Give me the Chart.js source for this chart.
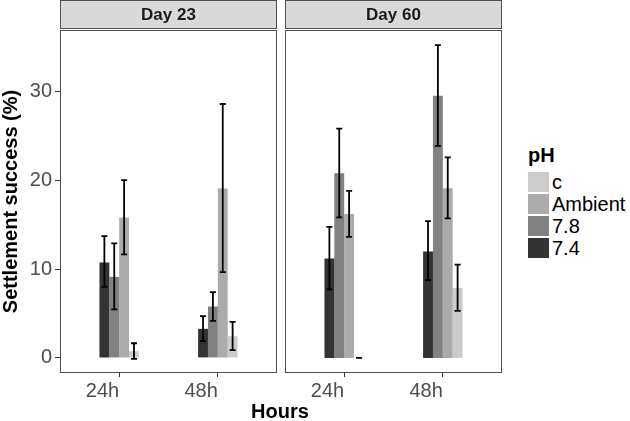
<!DOCTYPE html>
<html>
<head>
<meta charset="utf-8">
<script src="https://cdn.jsdelivr.net/npm/chart.js@4.4.1/dist/chart.umd.min.js"></script>
<style>
  html, body { margin: 0; padding: 0; background: #fff; }
  #wrap { position: relative; width: 630px; height: 421px; overflow: hidden; font-family: "Liberation Sans", Arial, Helvetica, sans-serif; }
  canvas { position: absolute; top: 0; }
  #c1 { left: 0; }
  #c2 { left: 280px; }
  #xtitle { position: absolute; left: 230px; width: 100px; top: 399px; text-align: center; font-weight: bold; font-size: 20px; line-height: 24px; color: #000; }
  #legend { position: absolute; left: 528px; top: 143px; color: #000; }
  #legend .ttl { font-weight: bold; font-size: 20px; line-height: 24px; height: 28px; }
  #legend .row { display: flex; align-items: center; height: 22px; margin-bottom: 0; }
  #legend .key { width: 21px; height: 20px; margin-right: 3px; }
  #legend .lab { font-size: 20px; line-height: 20px; color: #000; }
</style>
</head>
<body>
<div id="wrap">
  <canvas id="c1" width="280" height="421"></canvas>
  <canvas id="c2" width="225" height="421"></canvas>
  <div id="xtitle">Hours</div>
  <div id="legend"></div>
</div>
<script>
// ---- data ----
const hours = ["24h", "48h"];
const panels = ["Day 23", "Day 60"];
const phLevels = ["7.4", "7.8", "Ambient", "c"];
const phColors = ["#333333", "#818181", "#ABABAB", "#CCCCCC"];
const yTicks = [0, 10, 20, 30];

// Day 23 means / error limits per pH level (24h, 48h)
const day23_74 = [10.74, 3.27];
const day23_78 = [9.12, 5.79];
const day23_amb = [15.81, 19.07];
const day23_c = [0.75, 2.44];
const day23_74_lo = [8.0, 1.9],   day23_74_hi = [13.7, 4.7];
const day23_78_lo = [5.45, 4.17], day23_78_hi = [12.88, 7.4];
const day23_amb_lo = [11.64, 9.65], day23_amb_hi = [20.0, 28.57];
const day23_c_lo = [-0.12, 0.87], day23_c_hi = [1.65, 4.05];

// Day 60
const day60_74 = [11.19, 11.98];
const day60_78 = [20.77, 29.5];
const day60_amb = [16.18, 19.1];
const day60_c = [0, 7.85];
const day60_74_lo = [7.7, 8.75],   day60_74_hi = [14.75, 15.39];
const day60_78_lo = [15.81, 23.87], day60_78_hi = [25.8, 35.2];
const day60_amb_lo = [13.63, 15.7], day60_amb_hi = [18.8, 22.57];
const day60_c_lo = [0, 5.29], day60_c_hi = [0, 10.5];

const FONT = '"Liberation Sans", Arial, Helvetica, sans-serif';

function makeDatasets(means, los, his) {
  return phLevels.map((p, k) => ({
    label: p,
    data: means[k].map((v, i) => ({ x: i + 1, y: v })),
    errLow: los[k],
    errHigh: his[k],
    backgroundColor: phColors[k],
    borderWidth: 0,
    categoryPercentage: 0.4,
    barPercentage: 1.0
  }));
}

const errorBarPlugin = {
  id: 'errbars',
  afterDatasetsDraw(chart) {
    const ctx = chart.ctx;
    const ys = chart.scales.y;
    const cap = 3;
    ctx.save();
    ctx.strokeStyle = '#000';
    ctx.lineWidth = 1.8;
    chart.data.datasets.forEach((ds, di) => {
      const meta = chart.getDatasetMeta(di);
      meta.data.forEach((bar, i) => {
        const x = bar.x;
        const yl = ys.getPixelForValue(ds.errLow[i]);
        const yh = ys.getPixelForValue(ds.errHigh[i]);
        ctx.beginPath();
        ctx.moveTo(x, yl); ctx.lineTo(x, yh);
        ctx.moveTo(x - cap, yl); ctx.lineTo(x + cap, yl);
        ctx.moveTo(x - cap, yh); ctx.lineTo(x + cap, yh);
        ctx.stroke();
      });
    });
    ctx.restore();
  }
};

const panelPlugin = {
  id: 'panel',
  afterDraw(chart, args, opts) {
    const ctx = chart.ctx;
    const a = chart.chartArea;
    ctx.save();
    ctx.strokeStyle = '#505050';
    ctx.lineWidth = 1;
    ctx.strokeRect(Math.round(a.left) + 0.5, Math.round(a.top) + 0.5, Math.round(a.right - a.left) - 1, Math.round(a.bottom - a.top) - 1);
    // strip
    ctx.fillStyle = '#D9D9D9';
    ctx.fillRect(Math.round(a.left), 0, Math.round(a.right - a.left), Math.round(a.top) - 1);
    ctx.strokeRect(Math.round(a.left) + 0.5, 0.5, Math.round(a.right - a.left) - 1, Math.round(a.top) - 2);
    ctx.fillStyle = '#1a1a1a';
    ctx.font = 'bold 17px ' + FONT;
    ctx.textAlign = 'center';
    ctx.textBaseline = 'middle';
    ctx.fillText(opts.text, (a.left + a.right) / 2, a.top / 2);
    ctx.restore();
  }
};

function makeOptions(showY, stripText, padLeft) {
  return {
    responsive: false,
    animation: false,
    layout: { padding: { top: 30, right: 3, left: padLeft, bottom: 0 } },
    plugins: {
      legend: { display: false },
      tooltip: { enabled: false },
      panel: { text: stripText }
    },
    scales: {
      x: {
        type: 'linear',
        min: 0.4, max: 2.6,
        offset: false,
        afterBuildTicks: s => { s.ticks = hours.map((h, i) => ({ value: i + 1 })); },
        ticks: {
          callback: v => hours[Math.round(v) - 1],
          color: '#4d4d4d',
          font: { family: FONT, size: 20, lineHeight: 1 },
          padding: 4,
          align: 'end',
          maxRotation: 0
        },
        grid: { drawOnChartArea: false, drawTicks: true, tickLength: 4, color: '#333', offset: false },
        border: { display: false },
        afterFit: s => { s.height = 48; }
      },
      y: {
        display: showY,
        min: -1.7, max: 36.9,
        afterBuildTicks: s => { s.ticks = yTicks.map(v => ({ value: v })); },
        ticks: { color: '#4d4d4d', font: { family: FONT, size: 20 }, padding: 3 },
        grid: { drawOnChartArea: false, drawTicks: true, tickLength: 5, color: '#333' },
        border: { display: false },
        title: { display: true, text: 'Settlement success (%)', color: '#000', padding: { top: 0, bottom: 0 }, font: { family: FONT, size: 20, weight: 'bold', lineHeight: 1.1 } },
        afterFit: s => { s.width = showY ? 60 : 0; }
      }
    }
  };
}

new Chart(document.getElementById('c1'), {
  type: 'bar',
  data: { datasets: makeDatasets(
    [day23_74, day23_78, day23_amb, day23_c],
    [day23_74_lo, day23_78_lo, day23_amb_lo, day23_c_lo],
    [day23_74_hi, day23_78_hi, day23_amb_hi, day23_c_hi]) },
  options: makeOptions(true, panels[0], 0),
  plugins: [errorBarPlugin, panelPlugin]
});

new Chart(document.getElementById('c2'), {
  type: 'bar',
  data: { datasets: makeDatasets(
    [day60_74, day60_78, day60_amb, day60_c],
    [day60_74_lo, day60_78_lo, day60_amb_lo, day60_c_lo],
    [day60_74_hi, day60_78_hi, day60_amb_hi, day60_c_hi]) },
  options: makeOptions(false, panels[1], 5),
  plugins: [errorBarPlugin, panelPlugin]
});

// legend (reverse order, as in the reference)
const lg = document.getElementById('legend');
const t = document.createElement('div'); t.className = 'ttl'; t.textContent = 'pH'; lg.appendChild(t);
for (let k = phLevels.length - 1; k >= 0; k--) {
  const r = document.createElement('div'); r.className = 'row';
  const b = document.createElement('div'); b.className = 'key'; b.style.background = phColors[k];
  const l = document.createElement('div'); l.className = 'lab'; l.textContent = phLevels[k];
  r.appendChild(b); r.appendChild(l); lg.appendChild(r);
}
</script>
</body>
</html>
